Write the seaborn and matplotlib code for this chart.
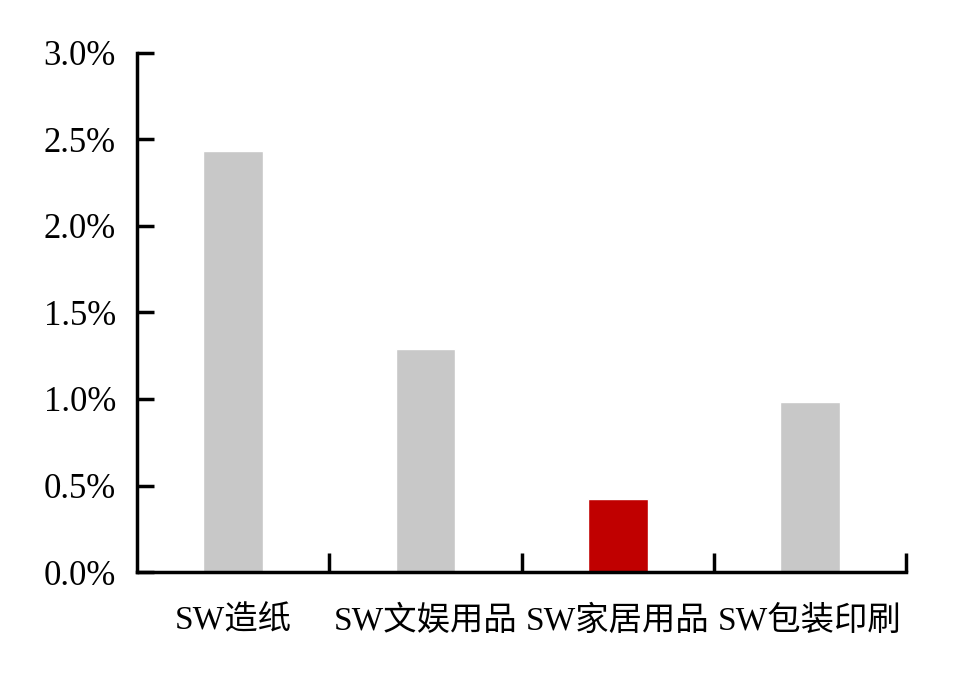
import pandas as pd
import matplotlib
matplotlib.use('Agg')
import matplotlib.pyplot as plt
import seaborn as sns
from matplotlib.ticker import FuncFormatter, FixedLocator

# 数据
industries = ['SW造纸', 'SW文娱用品', 'SW家居用品', 'SW包装印刷']
values = [0.0243, 0.0129, 0.0042, 0.0098]
bar_colors = ['#C8C8C8', '#C8C8C8', '#C00000', '#C8C8C8']

df = pd.DataFrame({'industry': industries, 'value': values})

sns.set_style('white')
plt.rcParams['font.family'] = ['Liberation Serif', 'Noto Sans CJK SC', 'DejaVu Sans']
plt.rcParams['axes.unicode_minus'] = False

fig = plt.figure(figsize=(9.57, 6.77), dpi=100)
ax = fig.add_axes([0.143, 0.155, 0.804, 0.767])

sns.barplot(data=df, x='industry', y='value', hue='industry',
            palette=dict(zip(industries, bar_colors)), width=0.31,
            legend=False, ax=ax, saturation=1)

ax.set_xlim(-0.5, 3.5)
ax.set_ylim(0, 0.03)
ax.set_yticks([0, 0.005, 0.01, 0.015, 0.02, 0.025, 0.03])
ax.yaxis.set_major_formatter(FuncFormatter(lambda v, p: f'{v*100:.1f}%'))
ax.set_xlabel('')
ax.set_ylabel('')

for s in ['top', 'right']:
    ax.spines[s].set_visible(False)
for s in ['left', 'bottom']:
    ax.spines[s].set_linewidth(2.5)
    ax.spines[s].set_color('black')

ax.tick_params(axis='y', left=True, direction='in', length=12, width=2.5, pad=15,
               labelsize=25, colors='black')
ax.tick_params(axis='x', which='major', bottom=False, length=0, pad=24,
               labelsize=24, labelcolor='black')
ax.xaxis.set_minor_locator(FixedLocator([0.5, 1.5, 2.5, 3.5]))
ax.tick_params(axis='x', which='minor', bottom=True, direction='in', length=14,
               width=2.5, color='black')

fig.savefig('out.png', dpi=100)
